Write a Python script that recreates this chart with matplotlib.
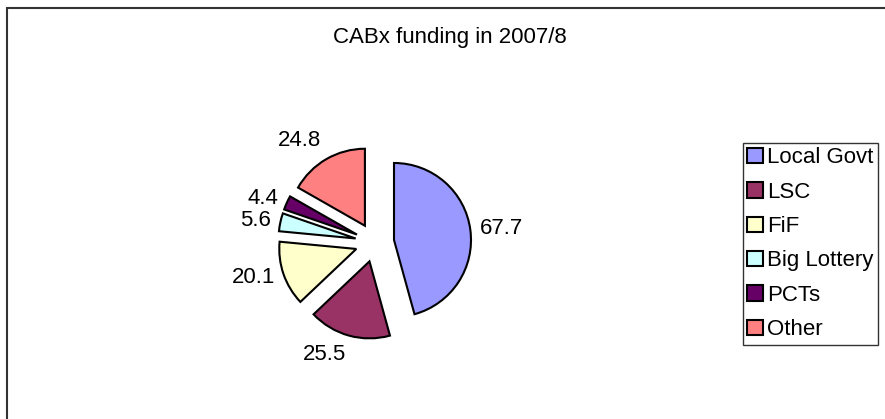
import numpy as np
import matplotlib
matplotlib.use("Agg")
import matplotlib.pyplot as plt
from matplotlib.patches import Rectangle

plt.rcParams['font.family'] = ['Liberation Sans', 'DejaVu Sans']

# data
sources = ['Local Govt', 'LSC', 'FiF', 'Big Lottery', 'PCTs', 'Other']
funding = [67.7, 25.5, 20.1, 5.6, 4.4, 24.8]
colours = ['#9999FF', '#993366', '#FFFFCC', '#CCFFFF', '#660066', '#FF8080']

W, H = 885, 419
fig = plt.figure(figsize=(W / 100, H / 100), dpi=100)

# outer chart border (runs off the right/bottom edge like the original)
fig.patches.append(Rectangle((7 / W, -0.1), 1.2, 1.1 - 8 / H, transform=fig.transFigure,
                             fill=False, edgecolor='#333333', linewidth=1.5))

# pie axes: centre at (375, 243) px, radius 77 px
cx, cy, R = 374.7, H - 242.6, 77.0
half = 170.0
ax = fig.add_axes([(cx - half) / W, (cy - half) / H, 2 * half / W, 2 * half / H])
wedges, _ = ax.pie(funding, colors=colours, startangle=90, counterclock=False,
                   explode=[0.253] * len(funding),
                   wedgeprops=dict(edgecolor='black', linewidth=1.5))
lim = half / R
ax.set_xlim(-lim, lim)
ax.set_ylim(-lim, lim)
ax.set_axis_off()

# value labels, Excel-style just outside each slice
for w, v in zip(wedges, funding):
    th = np.deg2rad((w.theta1 + w.theta2) / 2)
    c, s = np.cos(th), np.sin(th)
    x = w.center[0] + 1.12 * w.r * c
    y = w.center[1] + 1.12 * w.r * s
    ha = 'left' if c >= 0 else 'right'
    va = 'center' if abs(s) < 0.5 else ('bottom' if s > 0 else 'top')
    ax.text(x, y, f'{v:.1f}', ha=ha, va=va, fontsize=16)

fig.text(450 / W, 1 - 37 / H, 'CABx funding in 2007/8', ha='center', va='center', fontsize=16)

leg = fig.legend(wedges, sources, loc='upper left', bbox_to_anchor=(743 / W, 1 - 143 / H),
                 fontsize=16, frameon=True, fancybox=False, borderpad=0.2,
                 handlelength=0.7, handleheight=0.7, handletextpad=0.2,
                 labelspacing=0.6, borderaxespad=0)
leg.get_frame().set_edgecolor('black')
leg.get_frame().set_linewidth(1.0)

fig.savefig('out.png', dpi=100)
